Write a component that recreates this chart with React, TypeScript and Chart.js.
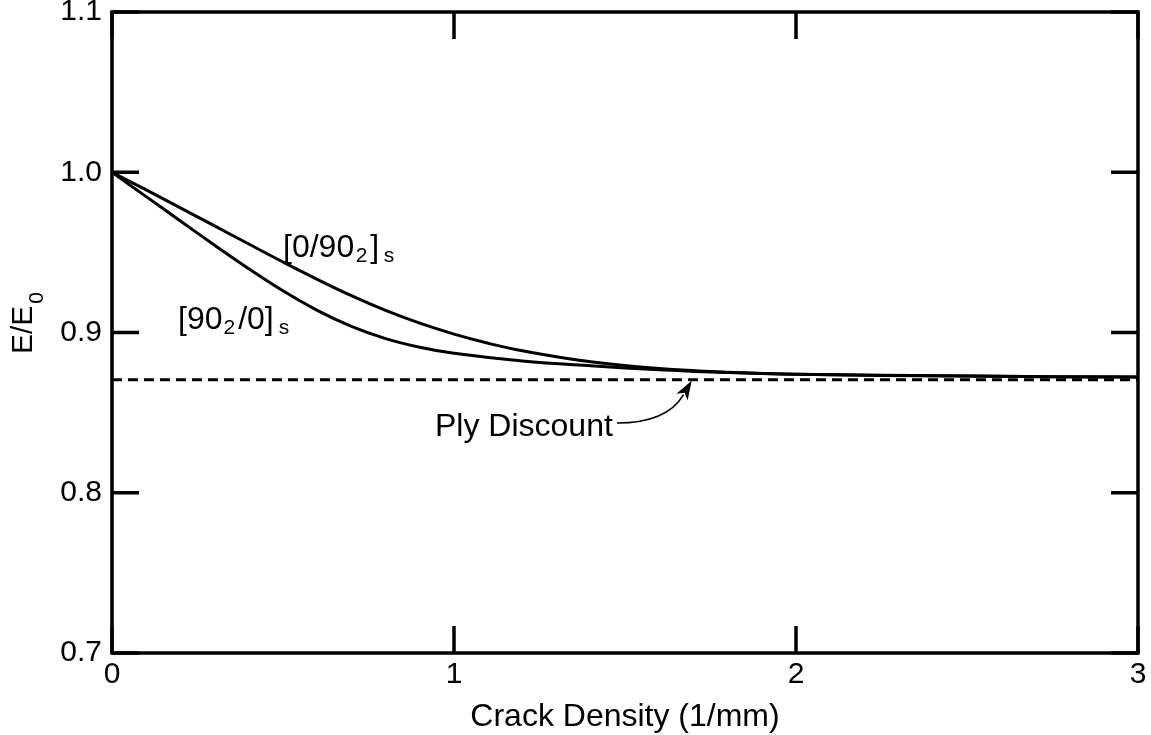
import React, { useEffect, useRef } from "react";
import { Chart, registerables } from "chart.js";

Chart.register(...registerables);

// ---- data ----
const crackDensityA = [0, 0.1, 0.2, 0.3, 0.4, 0.5, 0.6, 0.7, 0.8, 0.9, 1.0, 1.1, 1.2, 1.4, 1.6, 1.8, 2.0, 2.5, 3.0];
const stiffness0_902 = [1.0, 0.989, 0.9778, 0.9665, 0.9552, 0.944, 0.9332, 0.923, 0.9138, 0.9058, 0.899, 0.8933, 0.8886, 0.8817, 0.8775, 0.8752, 0.874, 0.8728, 0.8722];

const crackDensityB = [0, 0.1, 0.2, 0.3, 0.4, 0.5, 0.6, 0.7, 0.8, 0.9, 1.0, 1.2, 1.4, 1.6, 1.8, 2.0, 2.5, 3.0];
const stiffness902_0 = [1.0, 0.9848, 0.9696, 0.9545, 0.9398, 0.926, 0.9138, 0.9038, 0.8962, 0.8908, 0.887, 0.8822, 0.8792, 0.8768, 0.875, 0.8739, 0.8728, 0.8722];

const plyDiscountX = [0, 3];
const plyDiscountY = [0.8705, 0.8705];

const xTickValues = [0, 1, 2, 3];
const yTickValues = [0.7, 0.8, 0.9, 1.0, 1.1];

const xTitle = "Crack Density (1/mm)";
const yTitleMain = "E/E";
const yTitleSub = "0";
const plyDiscountLabel = "Ply Discount";

const FONT = "'Liberation Sans', Arial, Helvetica, sans-serif";

export default function App() {
  const ref = useRef<HTMLCanvasElement | null>(null);

  useEffect(() => {
    const canvas = ref.current;
    if (!canvas) return;

    const decorPlugin = {
      id: "decor",
      afterDraw(chart: any) {
        const ctx = chart.ctx as CanvasRenderingContext2D;
        const { left, right, top, bottom } = chart.chartArea;
        const xs = chart.scales.x;
        const ys = chart.scales.y;
        ctx.save();
        ctx.strokeStyle = "#000";
        ctx.fillStyle = "#000";
        // frame
        ctx.lineWidth = 3.5;
        ctx.lineJoin = "miter";
        ctx.strokeRect(left, top, right - left, bottom - top);
        // inward ticks
        const TL = 27;
        ctx.beginPath();
        xTickValues.forEach((v) => {
          const px = xs.getPixelForValue(v);
          ctx.moveTo(px, bottom);
          ctx.lineTo(px, bottom - TL);
          ctx.moveTo(px, top);
          ctx.lineTo(px, top + TL);
        });
        yTickValues.forEach((v) => {
          const py = ys.getPixelForValue(v);
          ctx.moveTo(left, py);
          ctx.lineTo(left + TL, py);
          ctx.moveTo(right, py);
          ctx.lineTo(right - TL, py);
        });
        ctx.stroke();

        const drawPieces = (
          x0: number,
          base: number,
          pieces: { t: string; size: number; dy: number; gap: number }[]
        ) => {
          let x = x0;
          pieces.forEach((p) => {
            x += p.gap;
            ctx.font = `${p.size}px ${FONT}`;
            ctx.fillText(p.t, x, base + p.dy);
            x += ctx.measureText(p.t).width;
          });
        };
        ctx.textAlign = "left";
        ctx.textBaseline = "alphabetic";

        // curve labels
        drawPieces(283, 257, [
          { t: "[0/90", size: 32, dy: 0, gap: 0 },
          { t: "2", size: 21, dy: 5, gap: 1.5 },
          { t: "]", size: 32, dy: 0, gap: 3 },
          { t: "s", size: 21, dy: 5, gap: 4.5 },
        ]);
        drawPieces(178, 329, [
          { t: "[90", size: 32, dy: 0, gap: 0 },
          { t: "2", size: 21, dy: 5, gap: 1 },
          { t: "/0]", size: 32, dy: 0, gap: 3 },
          { t: "s", size: 21, dy: 5, gap: 5 },
        ]);

        // Ply Discount label
        ctx.font = `32px ${FONT}`;
        ctx.fillText(plyDiscountLabel, 435, 436);

        // arrow
        const sx = 617;
        const sy = 423;
        const cx = xs.getPixelForValue(1.622);
        const cy = 423;
        const tx = xs.getPixelForValue(1.695);
        const ty = ys.getPixelForValue(plyDiscountY[0]) + 1;
        const dx = tx - cx;
        const dy = ty - cy;
        const len = Math.hypot(dx, dy);
        const ux = dx / len;
        const uy = dy / len;
        const HL = 19;
        const HW = 6.5;
        const bx = tx - ux * HL;
        const by = ty - uy * HL;
        ctx.lineWidth = 1.6;
        ctx.beginPath();
        ctx.moveTo(sx, sy);
        ctx.quadraticCurveTo(cx, cy, bx + ux * 3, by + uy * 3);
        ctx.stroke();
        ctx.beginPath();
        ctx.moveTo(tx, ty);
        ctx.lineTo(bx - uy * HW, by + ux * HW);
        ctx.lineTo(bx + ux * 5, by + uy * 5);
        ctx.lineTo(bx + uy * HW, by - ux * HW);
        ctx.closePath();
        ctx.fill();

        // x title
        ctx.font = `32px ${FONT}`;
        ctx.textAlign = "center";
        ctx.fillText(xTitle, (left + right) / 2, 726);

        // y title (rotated)
        ctx.save();
        ctx.translate(32, 354);
        ctx.rotate(-Math.PI / 2);
        ctx.textAlign = "left";
        ctx.font = `30px ${FONT}`;
        ctx.fillText(yTitleMain, 0, 0);
        const w = ctx.measureText(yTitleMain).width;
        ctx.font = `21px ${FONT}`;
        ctx.fillText(yTitleSub, w + 2, 11);
        ctx.restore();

        ctx.restore();
      },
    };

    const chart = new Chart(canvas, {
      type: "line",
      data: {
        datasets: [
          {
            label: "[0/90_2]s",
            data: crackDensityA.map((x, i) => ({ x, y: stiffness0_902[i] })),
            borderColor: "#000",
            borderWidth: 3,
            pointRadius: 0,
            fill: false,
            tension: 0.4,
          },
          {
            label: "[90_2/0]s",
            data: crackDensityB.map((x, i) => ({ x, y: stiffness902_0[i] })),
            borderColor: "#000",
            borderWidth: 3,
            pointRadius: 0,
            fill: false,
            tension: 0.4,
          },
          {
            label: "Ply Discount",
            data: plyDiscountX.map((x, i) => ({ x, y: plyDiscountY[i] })),
            borderColor: "#000",
            borderWidth: 3,
            borderDash: [10, 6],
            pointRadius: 0,
            fill: false,
          },
        ],
      },
      options: {
        responsive: false,
        animation: false,
        layout: { padding: { top: 12, right: 13, left: 0, bottom: 0 } },
        plugins: {
          legend: { display: false },
          tooltip: { enabled: false },
        },
        scales: {
          x: {
            type: "linear",
            min: 0,
            max: 3,
            grid: { display: false, drawTicks: false },
            border: { display: false },
            afterBuildTicks: (s: any) => {
              s.ticks = xTickValues.map((v) => ({ value: v }));
            },
            afterFit: (s: any) => {
              s.height = 82;
              s.paddingLeft = 0;
              s.paddingRight = 0;
            },
            ticks: {
              color: "#000",
              padding: 4,
              maxRotation: 0,
              font: { family: FONT, size: 30 },
              callback: (v: any) => String(Number(v)),
            },
          },
          y: {
            type: "linear",
            min: 0.7,
            max: 1.1,
            grid: { display: false, drawTicks: false },
            border: { display: false },
            afterBuildTicks: (s: any) => {
              s.ticks = yTickValues.map((v) => ({ value: v }));
            },
            afterFit: (s: any) => {
              s.width = 112;
              s.paddingTop = 0;
              s.paddingBottom = 0;
            },
            ticks: {
              color: "#000",
              padding: 10,
              font: { family: FONT, size: 30 },
              callback: (v: any) => Number(v).toFixed(1),
            },
          },
        },
      },
      plugins: [decorPlugin],
    } as any);

    return () => chart.destroy();
  }, []);

  return (
    <div style={{ position: "fixed", left: 0, top: 0, width: 1151, height: 735, background: "#fff" }}>
      <canvas ref={ref} width={1151} height={735} style={{ display: "block" }} />
    </div>
  );
}
